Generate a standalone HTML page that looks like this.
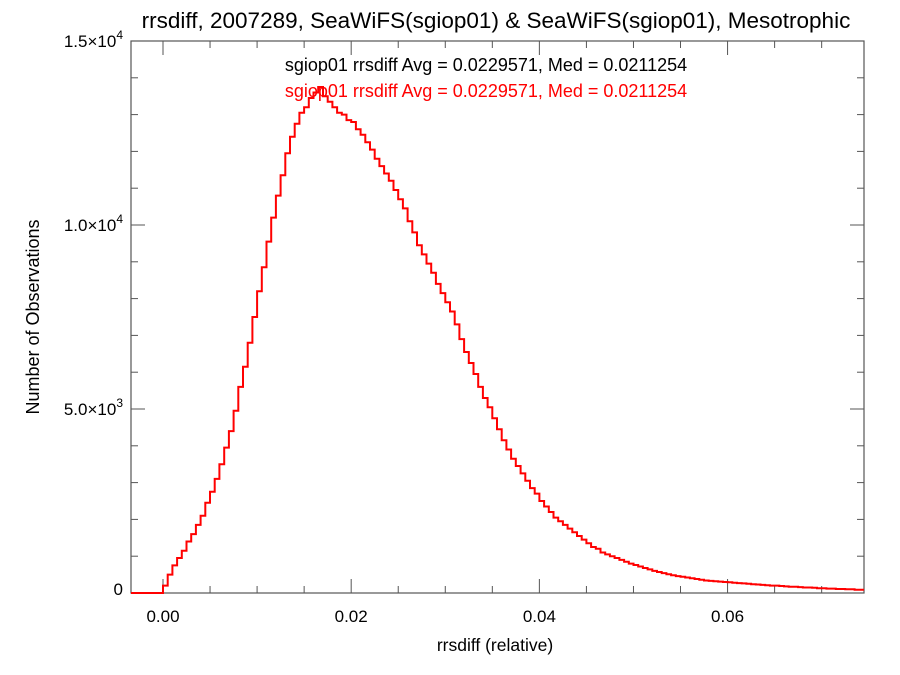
<!DOCTYPE html>
<html><head><meta charset="utf-8"><style>
body{margin:0;background:#fff;width:900px;height:675px;overflow:hidden}
svg{display:block;font-family:"Liberation Sans",Helvetica,sans-serif}
</style></head><body>
<svg id="chart" width="900" height="675">
<text x="496" y="28" font-size="22.5" text-anchor="middle">rrsdiff, 2007289, SeaWiFS(sgiop01) &amp; SeaWiFS(sgiop01), Mesotrophic</text>
<text x="486" y="71" font-size="18" text-anchor="middle" fill="#000">sgiop01 rrsdiff Avg = 0.0229571, Med = 0.0211254</text>
<text x="486" y="97" font-size="18" text-anchor="middle" fill="#ff0000">sgiop01 rrsdiff Avg = 0.0229571, Med = 0.0211254</text>
<text x="495" y="651" font-size="17.5" text-anchor="middle">rrsdiff (relative)</text>
<text transform="translate(39,317) rotate(-90)" font-size="18" text-anchor="middle">Number of Observations</text>
<g id="axes"></g>
<g id="series"></g>
</svg>
<script>
const binStart = 0.0;
const binWidth = 0.0005;
const countsK = [0.2,0.5,0.75,0.95,1.15,1.4,1.6,1.85,2.1,2.45,2.75,3.1,3.5,3.95,4.4,4.95,5.6,6.15,6.8,7.5,8.2,8.85,9.55,10.2,10.8,11.35,11.95,12.4,12.75,13.05,13.2,13.45,13.6,13.75,13.5,13.35,13.2,13.05,13.0,12.85,12.8,12.6,12.45,12.25,12.05,11.8,11.6,11.4,11.2,10.95,10.7,10.45,10.1,9.8,9.45,9.2,8.95,8.7,8.4,8.15,7.9,7.65,7.3,6.9,6.55,6.25,5.95,5.6,5.3,5.05,4.75,4.45,4.15,3.9,3.65,3.45,3.25,3.05,2.85,2.7,2.5,2.35,2.2,2.05,1.95,1.85,1.75,1.65,1.55,1.45,1.35,1.25,1.2,1.1,1.05,1.0,0.95,0.9,0.85,0.8,0.76,0.72,0.68,0.64,0.6,0.57,0.54,0.51,0.48,0.46,0.44,0.42,0.4,0.38,0.36,0.34,0.33,0.32,0.31,0.3,0.29,0.28,0.27,0.26,0.25,0.24,0.23,0.22,0.21,0.2,0.2,0.19,0.18,0.17,0.17,0.16,0.15,0.15,0.14,0.13,0.13,0.12,0.12,0.11,0.11,0.1,0.1,0.09,0.09];
const xTicks = [0.00,0.02,0.04,0.06];
const xTickLabels = ["0.00","0.02","0.04","0.06"];
const yTicks = [0,5000,10000,15000];
const yTickLabels = ["0","5.0×10<tspan dy='-8' font-size='12'>3</tspan>","1.0×10<tspan dy='-8' font-size='12'>4</tspan>","1.5×10<tspan dy='-8' font-size='12'>4</tspan>"];

const L=131,R=864,T=41,B=593;
const xMin=-0.0034,xMax=0.0745,yMin=0,yMax=15000;
const xs=v=>L+(v-xMin)/(xMax-xMin)*(R-L);
const ys=v=>B-(v-yMin)/(yMax-yMin)*(B-T);
const NS="http://www.w3.org/2000/svg";
const axes=document.getElementById('axes');
function mk(tag,attrs,parent){const e=document.createElementNS(NS,tag);for(const k in attrs)e.setAttribute(k,attrs[k]);parent.appendChild(e);return e;}

const frame=mk('rect',{x:L,y:T,width:R-L,height:B-T,fill:'none',stroke:'#555','stroke-width':1.2},axes);



for(let v=0;v<=0.0745;v+=0.005){
  const major=Math.abs(v/0.02-Math.round(v/0.02))<1e-6;
  const len=major?14:7;const x=xs(v);
  const t1=mk('line',{x1:x,x2:x,y1:B,y2:B-len,stroke:'#555'},axes);
  
  
  const t2=mk('line',{x1:x,x2:x,y1:T,y2:T+len,stroke:'#555'},axes);
  
  
}
xTicks.forEach((v,i)=>{
  const t=mk('text',{x:xs(v),y:622,'font-size':17,'text-anchor':'middle'},axes);
  t.textContent=xTickLabels[i];
  
  
});
for(let v=0;v<=15000;v+=1000){
  const major=v%5000===0;const len=major?14:7;const y=ys(v);
  const t1=mk('line',{x1:L,x2:L+len,y1:y,y2:y,stroke:'#555'},axes);
  
  
  const t2=mk('line',{x1:R,x2:R-len,y1:y,y2:y,stroke:'#555'},axes);
  
  
}
yTicks.forEach((v,i)=>{
  const t=mk('text',{x:123,y:ys(v)+(v===0?2:6),'font-size':17,'text-anchor':'end'},axes);
  t.innerHTML=yTickLabels[i];
  
  
});

let d='M'+L+','+ys(0)+' L'+xs(binStart)+','+ys(0);
countsK.forEach((c,i)=>{
  const x0=xs(binStart+i*binWidth),x1=Math.min(R,xs(binStart+(i+1)*binWidth)),y=ys(c*1000);
  d+=' L'+x0.toFixed(1)+','+y.toFixed(1)+' L'+x1.toFixed(1)+','+y.toFixed(1);
});
const p=mk('path',{d:d,fill:'none',stroke:'#ff0000','stroke-width':2},document.getElementById('series'));


</script>
</body></html>
